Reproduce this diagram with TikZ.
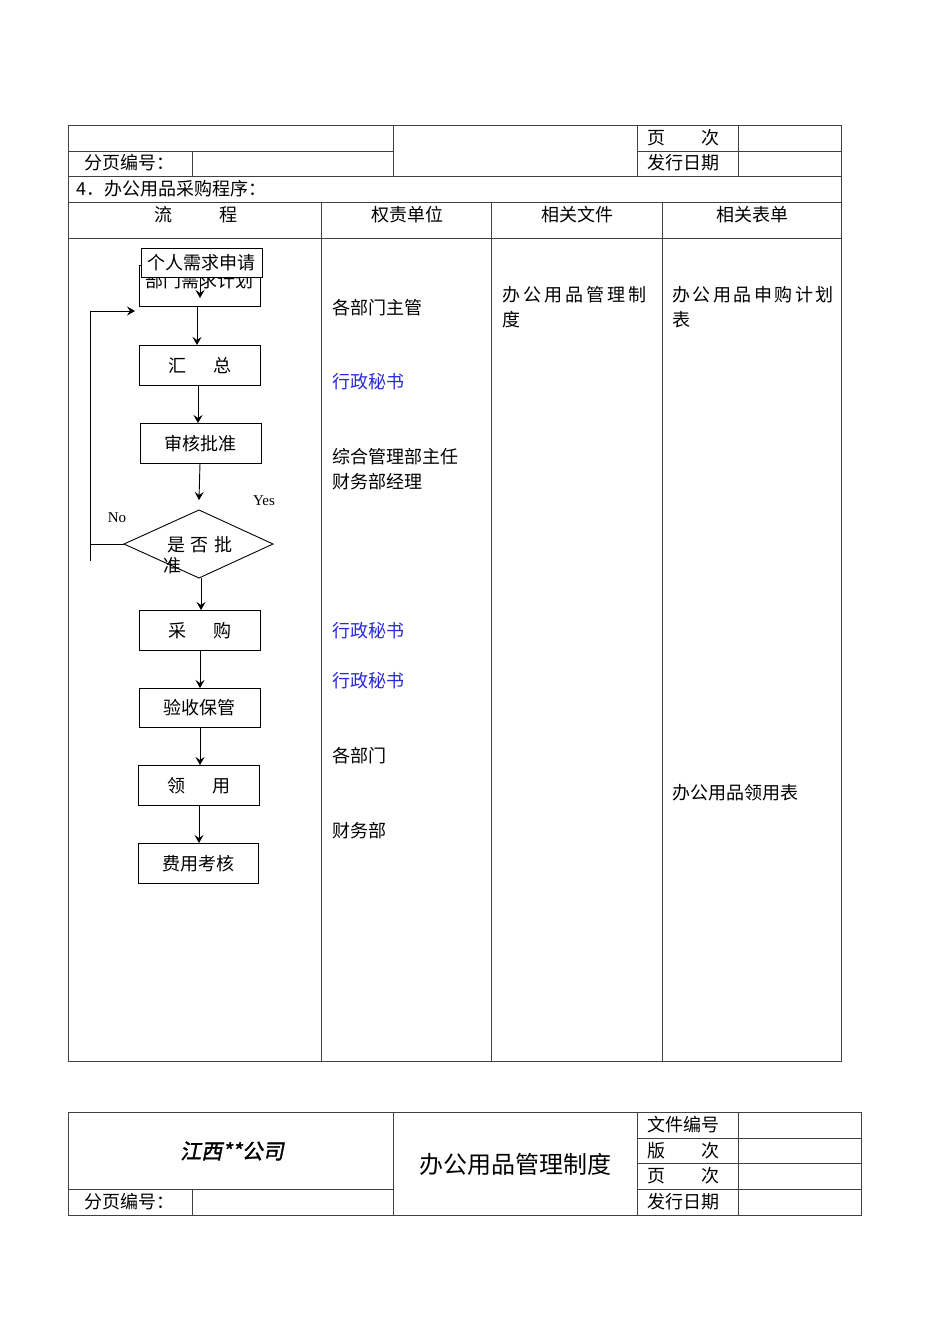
\documentclass[tikz,border=0pt]{standalone}
\usepackage{fontspec}
\setmainfont{Liberation Serif}
\newfontfamily\cjk{Noto Sans CJK SC}[Scale=1.0]
\newfontfamily\cjksl{Noto Sans CJK SC}[FakeSlant=0.2,FakeBold=1.5]
\usetikzlibrary{arrows.meta}
\definecolor{blu}{RGB}{40,40,220}
\begin{document}
\begin{tikzpicture}[x=1pt,y=-1pt,
  ln/.style={draw=black!75,line width=0.8pt},
  t/.style={font=\cjk\fontsize{18}{20}\selectfont,inner sep=0pt,anchor=west},
  bx/.style={draw,line width=0.9pt,font=\cjk\fontsize{18}{20}\selectfont,inner sep=0pt},
  ar/.style={-{Stealth[length=8pt,width=9pt,inset=3pt]},line width=0.9pt}]
\useasboundingbox (0,0) rectangle (950,1344);
% top table
\draw[ln] (68,125) rectangle (841,1061);
\draw[ln] (68,151)--(393,151) (637,151)--(841,151) (68,176)--(841,176) (68,202)--(841,202) (68,238)--(841,238);
\draw[ln] (393,125)--(393,176) (637,125)--(637,176) (738,125)--(738,176) (192,151)--(192,176);
\draw[ln] (321,202)--(321,1061) (491,202)--(491,1061) (662,202)--(662,1061);
\node[t] (p1) at (647,138) {页\hspace{2em}次};
\node[t] (p2) at (647,163) {发行日期};
\node[t] (p3) at (84,163) {分页编号：};
\node[t] (p4) at (76,189) {4．办公用品采购程序：};
\node[t,anchor=center] (h1) at (196,215) {流\hspace{2.6em}程};
\node[t,anchor=center] (h2) at (407,215) {权责单位};
\node[t,anchor=center] (h3) at (577,215) {相关文件};
\node[t,anchor=center] (h4) at (752,215) {相关表单};
% column texts
\node[t] (r1) at (332,308) {各部门主管};
\node[t,text=blu] (r2) at (332,382) {行政秘书};
\node[t] (r3) at (332,457) {综合管理部主任};
\node[t] (r4) at (332,482) {财务部经理};
\node[t,text=blu] (r5) at (332,631) {行政秘书};
\node[t,text=blu] (r6) at (332,681) {行政秘书};
\node[t] (r7) at (332,756) {各部门};
\node[t] (r8) at (332,831) {财务部};
\node[t] (d1) at (502,295) {办\,公\,用\,品\,管\,理\,制};
\node[t] (d2) at (502,320) {度};
\node[t] (f1) at (672,295) {办\hspace{2.5pt}公\hspace{2.5pt}用\hspace{2.5pt}品\hspace{2.5pt}申\hspace{2.5pt}购\hspace{2.5pt}计\hspace{2.5pt}划};
\node[t] (f2) at (672,320) {表};
\node[t] (f3) at (672,793) {办公用品领用表};
% flowchart
\node[bx,minimum width=121,minimum height=41,anchor=north west,align=center] (b1) at (139,265) {\raisebox{12pt}{部门需求计划}};
\node[bx,fill=white,minimum width=121,minimum height=29,anchor=north west] (b0) at (141,248) {个人需求申请};
\node[bx,minimum width=121,minimum height=40,anchor=north west] (b2) at (139,345) {汇\hspace{1.5em}总};
\node[bx,minimum width=121,minimum height=40,anchor=north west] (b3) at (140,423) {审核批准};
\draw[line width=0.9pt] (124,544)--(199,510)--(273,544)--(199,578)--cycle;
\node[t,anchor=center] (dt) at (200,545) {是\,\,否\,\,批};
\node[t,anchor=center] (dt2) at (172,566) {准};
\coordinate (dtop) at (199,500);
\coordinate (dl) at (124,544);
\node[bx,minimum width=121,minimum height=40,anchor=north west] (b4) at (139,610) {采\hspace{1.5em}购};
\node[bx,minimum width=121,minimum height=39,anchor=north west] (b5) at (139,688) {验收保管};
\node[bx,minimum width=121,minimum height=40,anchor=north west] (b6) at (138,765) {领\hspace{1.5em}用};
\node[bx,minimum width=120,minimum height=40,anchor=north west] (b7) at (138,843) {费用考核};
\draw[ar] (200,277)--(200,298);
\draw[ar] (197,306)--(197,345);
\draw[ar] (198,385)--(198,423);
\draw[ar] (200,463)--(dtop);
\draw[ar] (201,578)--(201,610);
\draw[ar] (200,650)--(200,688);
\draw[ar] (200,727)--(200,765);
\draw[ar] (199,805)--(199,843);
\coordinate (lp) at (135,311);
\draw[line width=0.9pt] (dl)--(90,544);
\draw[ar] (90,561)--(90,311)--(lp);
\node[font=\fontsize{15}{17}\selectfont] (yes) at (264,501) {Yes};
\node[font=\fontsize{15}{17}\selectfont] (no) at (117,518) {No};
% bottom table
\draw[ln] (68,1112) rectangle (861,1215);
\draw[ln] (637,1138)--(861,1138) (637,1163)--(861,1163) (637,1189)--(861,1189) (68,1189)--(393,1189);
\draw[ln] (393,1112)--(393,1215) (637,1112)--(637,1215) (738,1112)--(738,1215) (192,1189)--(192,1215);
\node[t,anchor=center,font=\cjksl\fontsize{21}{24}\selectfont] (co) at (232,1151) {江西**公司};
\node[t,anchor=center,font=\cjk\fontsize{24}{28}\selectfont] (ti) at (515,1164) {办公用品管理制度};
\node[t] (q1) at (647,1125) {文件编号};
\node[t] (q2) at (647,1151) {版\hspace{2em}次};
\node[t] (q3) at (647,1176) {页\hspace{2em}次};
\node[t] (q4) at (647,1202) {发行日期};
\node[t] (q5) at (84,1202) {分页编号：};
\end{tikzpicture}
\end{document}
